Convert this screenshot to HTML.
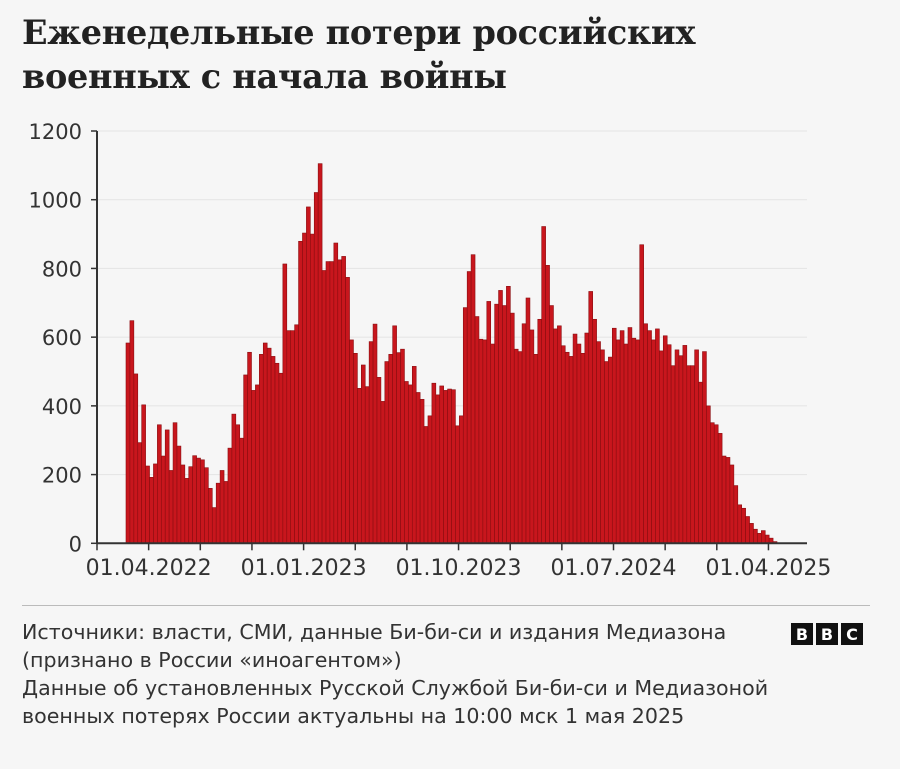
<!DOCTYPE html>
<html><head><meta charset="utf-8">
<style>
body{margin:0;background:#f6f6f6;width:900px;height:769px;overflow:hidden;font-family:"DejaVu Sans",sans-serif;}
#title{position:absolute;left:22px;top:11px;font-family:"DejaVu Serif",serif;font-weight:bold;font-size:33.5px;line-height:44px;color:#222;margin:0;letter-spacing:-0.3px;}
#foot{position:absolute;left:22px;top:618px;font-size:20.6px;line-height:28px;color:#333;}
#bbc{position:absolute;left:791px;top:623px;display:flex;gap:3px;}
#bbc span{width:22px;height:22px;background:#111;color:#fff;font-weight:bold;font-size:16px;display:flex;align-items:center;justify-content:center;}
#divider{position:absolute;left:22px;top:605px;width:848px;height:1px;background:#bbb;}
</style></head><body>
<h1 id="title">Еженедельные потери российских<br>военных с начала войны</h1>
<svg id="chart" width="900" height="600" style="position:absolute;left:0;top:0"></svg>
<div id="divider"></div>
<div id="foot">Источники: власти, СМИ, данные Би-би-си и издания Медиазона<br>(признано в России «иноагентом»)<br>Данные об установленных Русской Службой Би-би-си и Медиазоной<br>военных потерях России актуальны на 10:00 мск 1 мая 2025</div>
<div id="bbc"><span>B</span><span>B</span><span>C</span></div>
<script>
const weeklyLosses=[583,648,493,293,403,225,192,231,345,254,330,212,351,283,228,189,223,255,248,243,220,160,104,175,212,180,277,376,345,306,490,556,445,461,550,583,568,544,524,495,813,619,619,636,879,903,979,900,1021,1105,794,820,820,874,825,835,774,592,553,451,519,456,587,638,483,413,529,550,633,555,565,471,461,515,439,419,340,371,466,432,458,445,449,447,342,371,686,791,840,660,594,592,704,580,696,736,692,748,670,565,558,639,714,621,550,652,922,809,692,624,633,575,556,544,609,580,553,612,733,652,587,563,529,542,626,592,619,580,628,597,592,869,639,619,592,624,560,604,578,517,563,546,576,517,517,563,469,558,400,351,345,320,254,250,228,168,112,102,78,58,41,29,37,24,15,5];
const yTicks=[0,200,400,600,800,1000,1200];
const xTickLabels=["01.04.2022","01.01.2023","01.10.2023","01.07.2024","01.04.2025"];
const NS="http://www.w3.org/2000/svg";
const svg=document.getElementById('chart');
const x0=97,x1=807,y0=543.3,ppu=(543.3-131)/1200;
const y=v=>y0-v*ppu;
const barStart=126,barEnd=777,bw=(barEnd-barStart)/weeklyLosses.length;
const xBar=i=>barStart+i*bw;
const qStep=51.65;
function mk(t,a){const e=document.createElementNS(NS,t);for(const k in a)e.setAttribute(k,a[k]);svg.appendChild(e);return e;}
yTicks.forEach(v=>{
  if(v>0){const g=mk('line',{x1:x0,x2:x1,y1:y(v),y2:y(v),stroke:'#e4e4e4','stroke-width':1});
  
  }
  const tk=mk('line',{x1:x0-6,x2:x0,y1:y(v),y2:y(v),stroke:'#333','stroke-width':1.5});
  
  
  const t=mk('text',{x:x0-15,y:y(v)+8,'text-anchor':'end','font-size':21,fill:'#333','font-family':'DejaVu Sans, sans-serif'});
  t.textContent=v;
  
  
});
weeklyLosses.forEach((v,i)=>{
  const r=mk('rect',{x:xBar(i),y:y(v),width:bw,height:y0-y(v),fill:'#c8161d',stroke:'#8a0d10','stroke-width':0.6});
  
  
});
const ax=mk('line',{x1:x0,x2:x1,y1:y0,y2:y0,stroke:'#333','stroke-width':2});


const ay=mk('line',{x1:x0,x2:x0,y1:y(1200),y2:y0,stroke:'#333','stroke-width':2});


for(let q=0;q<=13;q++){
  const xx=x0+q*qStep;
  const tk=mk('line',{x1:xx,x2:xx,y1:y0,y2:y0+7,stroke:'#333','stroke-width':1.5});
  
  
}
xTickLabels.forEach((l,i)=>{
  const t=mk('text',{x:x0+(1+3*i)*qStep,y:575,'text-anchor':'middle','font-size':22,fill:'#333','font-family':'DejaVu Sans, sans-serif'});
  t.textContent=l;
  
  
});
</script>
</body></html>
